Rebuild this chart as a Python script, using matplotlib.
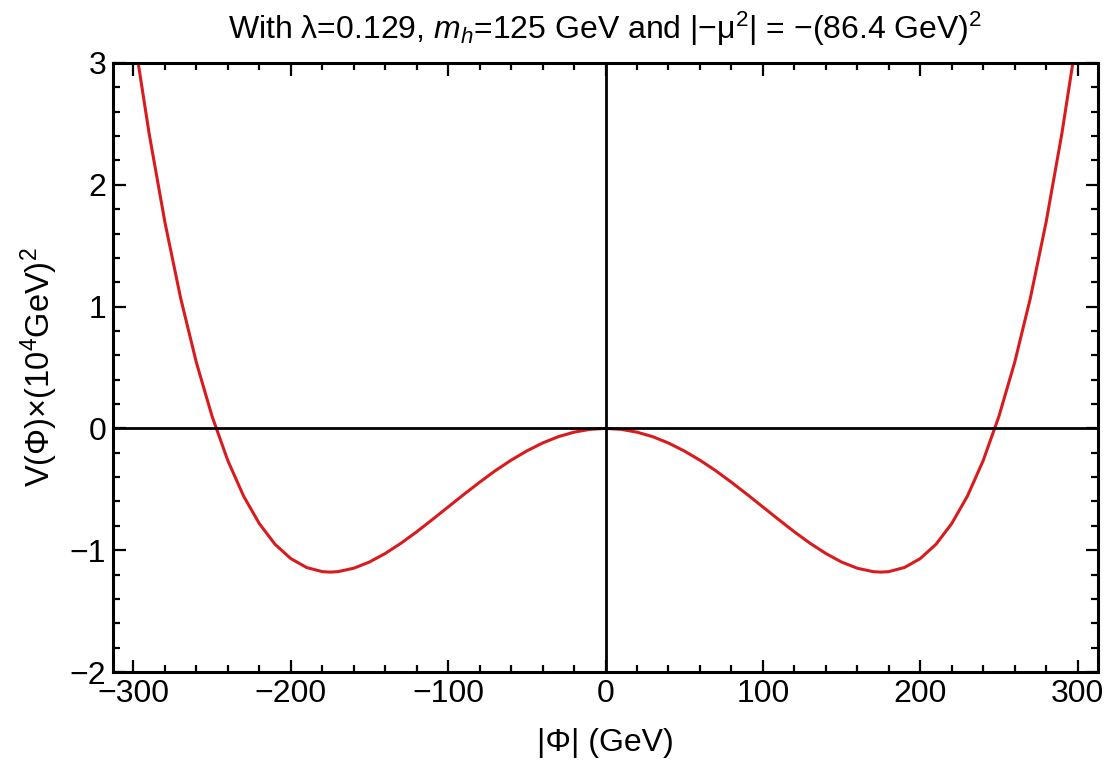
import matplotlib.pyplot as plt
import numpy as np

# valores (potencial en unidades de 10^4 GeV^2)
phi_pos = [0, 10, 20, 30, 40, 50, 60, 70, 80, 90, 100, 110, 120, 130, 140, 150,
           160, 170, 175, 180, 190, 200, 210, 220, 230, 240, 250, 260, 270, 280, 290, 300]
v_pos = [0.0, -0.008, -0.031, -0.068, -0.120, -0.185, -0.261, -0.347, -0.442, -0.542,
         -0.645, -0.748, -0.849, -0.943, -1.027, -1.097, -1.148, -1.176, -1.18, -1.176,
         -1.142, -1.069, -0.952, -0.782, -0.556, -0.265, 0.098, 0.540, 1.069, 1.692, 2.418, 3.25]

# lado negativo (simetrico)
phi = [-p for p in phi_pos[::-1]] + phi_pos[1:]
v = v_pos[::-1] + v_pos[1:]

plt.rcParams['font.family'] = ['Liberation Sans', 'DejaVu Sans']
plt.rcParams['mathtext.fontset'] = 'custom'
plt.rcParams['mathtext.rm'] = 'Liberation Sans'
plt.rcParams['mathtext.it'] = 'Liberation Sans:italic'

fig = plt.figure(figsize=(11.1, 7.68), dpi=100)
ax = fig.add_axes([0.1018, 0.125, 0.8874, 0.793])

ax.plot(phi, v, color='#d81c1e', lw=2.2)
ax.axhline(0, color='black', lw=2)
ax.axvline(0, color='black', lw=2)

ax.set_xlim(-313, 313)
ax.set_ylim(-2, 3)
ax.set_xticks([-300, -200, -100, 0, 100, 200, 300])
ax.set_xticklabels(['\u2212300', '\u2212200', '\u2212100', '0', '100', '200', '300'])
ax.set_xticks(np.arange(-300, 301, 20), minor=True)
ax.set_yticks([-2, -1, 0, 1, 2, 3])
ax.set_yticklabels(['\u22122', '\u22121', '0', '1', '2', '3'])
ax.set_yticks(np.arange(-2, 3.01, 0.2), minor=True)

ax.tick_params(which='both', direction='in', top=True, right=True,
               labeltop=False, labelright=False, width=1.6, colors='black')
ax.tick_params(which='major', length=9, labelsize=23, pad=5)
ax.tick_params(which='minor', length=5)
for s in ax.spines.values():
    s.set_linewidth(2.2)

ax.set_xlabel('|\u03a6| (GeV)', fontsize=23, labelpad=14)
ax.set_ylabel('V(\u03a6)\u00d7(10$^4$GeV)$^2$', fontsize=23.5, labelpad=7)
ax.set_title('With \u03bb=0.129, $m_h$=125 GeV and |\u2212\u03bc$^2$| = \u2212(86.4 GeV)$^2$',
             fontsize=23, pad=17)

plt.savefig('out.png', dpi=100)
